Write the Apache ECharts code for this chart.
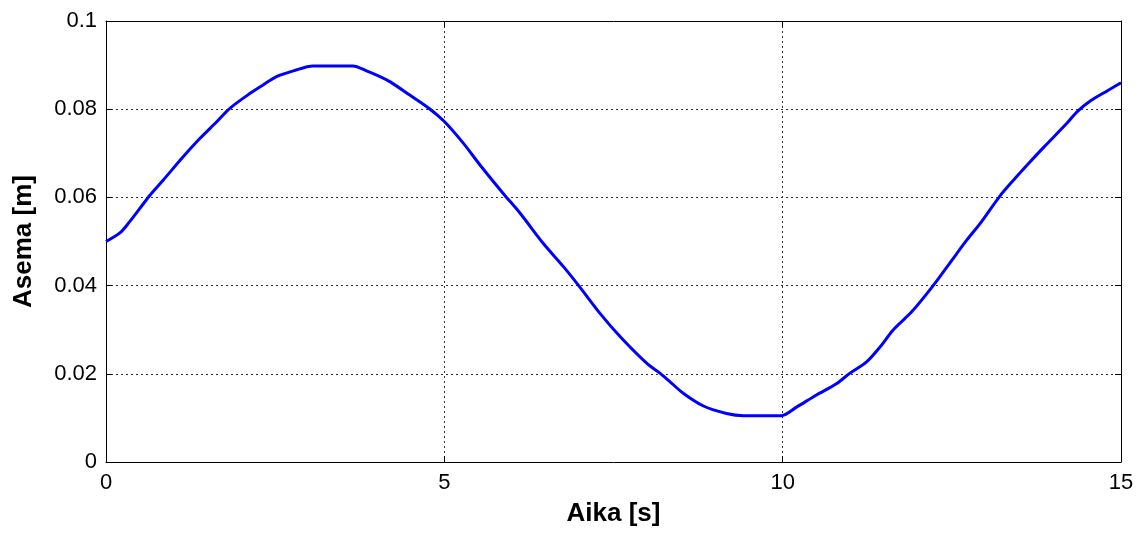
<!DOCTYPE html>
<html>
<head>
<meta charset="utf-8">
<title>Asema</title>
<script src="https://cdn.jsdelivr.net/npm/echarts@6/dist/echarts.min.js"></script>
<style>
  html, body { margin: 0; padding: 0; background: #ffffff; }
  #chart { width: 1146px; height: 536px; }
</style>
</head>
<body>
<div id="chart"></div>
<script>
// Position of the mass over time
const times = [0, 0.21, 0.35, 0.50, 0.65, 0.85, 1.14, 1.39, 1.64, 1.83, 2.13, 2.32, 2.52, 2.77, 3.06,
  3.65, 3.85, 4.05, 4.20, 4.49, 4.79, 5.0, 5.28, 5.53, 5.87, 6.12, 6.46, 6.76, 6.98, 7.30, 7.60,
  7.99, 8.19, 8.32, 8.53, 8.83, 9.17, 9.42, 9.98, 10.21, 10.50, 10.80, 10.99, 11.24, 11.44, 11.63,
  11.91, 12.23, 12.47, 12.72, 12.92, 13.21, 13.41, 13.61, 13.86, 14.20, 14.35, 14.55, 14.80, 15.0];
const positions = [0.0500, 0.0520, 0.0545, 0.0575, 0.0605, 0.0640, 0.0692, 0.0734, 0.0772, 0.0802,
  0.0836, 0.0855, 0.0874, 0.0887, 0.0898, 0.0898, 0.0887, 0.0874, 0.0862, 0.0832, 0.0800, 0.0772,
  0.0723, 0.0673, 0.0609, 0.0564, 0.0496, 0.0443, 0.0401, 0.0337, 0.0284, 0.0224, 0.0201, 0.0184,
  0.0156, 0.0127, 0.0110, 0.0105, 0.0105, 0.0125, 0.0152, 0.0178, 0.0201, 0.0227, 0.0261, 0.0299,
  0.0341, 0.0401, 0.0451, 0.0503, 0.0541, 0.0603, 0.0639, 0.0673, 0.0714, 0.0768, 0.0794, 0.0819,
  0.0842, 0.0860];

const xTicks = { min: 0, max: 15, interval: 5 };
const yTicks = { min: 0, max: 0.1, interval: 0.02 };

const FONT = "'Liberation Sans', Arial, sans-serif";
const axisLine = { show: true, onZero: false, lineStyle: { color: '#000', width: 1 } };
const tickIn = { show: true, inside: true, length: 6, lineStyle: { color: '#000', width: 1 } };
const gridDots = { show: true, lineStyle: { color: '#333', width: 1, type: [2, 3] } };
const nameStyle = { fontFamily: FONT, fontSize: 26, fontWeight: 'bold', color: '#000' };

const chart = echarts.init(document.getElementById('chart'), null, { renderer: 'canvas' });
chart.setOption({
  animation: false,
  backgroundColor: '#ffffff',
  grid: { left: 106, right: 25, top: 21, bottom: 74, containLabel: false },
  xAxis: [
    {
      type: 'value', position: 'bottom', ...xTicks,
      name: 'Aika [s]', nameLocation: 'middle', nameGap: 39, nameTextStyle: nameStyle,
      axisLine, axisTick: tickIn,
      axisLabel: { fontFamily: FONT, fontSize: 22, color: '#000', margin: 10 },
      splitLine: gridDots
    },
    {
      type: 'value', position: 'top', ...xTicks,
      axisLine, axisTick: tickIn, axisLabel: { show: false }, splitLine: { show: false }
    }
  ],
  yAxis: [
    {
      type: 'value', position: 'left', ...yTicks,
      name: 'Asema [m]', nameLocation: 'middle', nameGap: 69, nameTextStyle: nameStyle,
      axisLine, axisTick: tickIn,
      axisLabel: {
        fontFamily: FONT, fontSize: 22, color: '#000', margin: 9,
        formatter: v => String(+v.toFixed(2))
      },
      splitLine: gridDots
    },
    {
      type: 'value', position: 'right', ...yTicks,
      axisLine, axisTick: tickIn, axisLabel: { show: false }, splitLine: { show: false }
    }
  ],
  series: [{
    type: 'line',
    xAxisIndex: 0, yAxisIndex: 0,
    data: times.map((t, i) => [t, positions[i]]),
    showSymbol: false,
    smooth: 0.3,
    lineStyle: { color: '#0000ff', width: 3 },
    itemStyle: { color: '#0000ff' }
  }]
});
</script>
</body>
</html>
